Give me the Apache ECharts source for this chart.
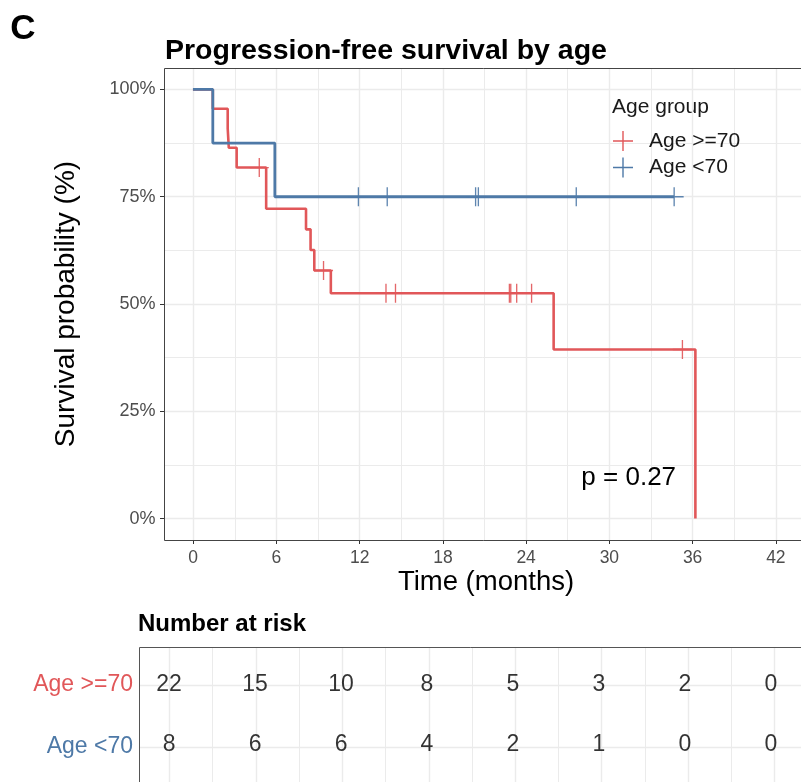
<!DOCTYPE html>
<html><head><meta charset="utf-8">
<script src="https://cdn.jsdelivr.net/npm/echarts@6/dist/echarts.min.js"></script>
<style>html,body{margin:0;padding:0;background:#fff}#c{width:801px;height:782px}</style>
</head><body><div id="c"></div>
<script>
// ---------------- data ----------------
const groups = ['Age >=70', 'Age <70'];
const highStepTimes = [0, 1.44, 2.52, 2.6, 3.17, 5.31, 8.2, 8.53, 8.8, 10.0, 26.16, 36.44];
const highStepSurv  = [1, 0.955, 0.909, 0.864, 0.818, 0.722, 0.674, 0.626, 0.578, 0.525, 0.394, 0];
const highCensorTimes = [4.81, 9.47, 14.0, 14.69, 22.95, 23.05, 23.48, 24.56, 35.5];
const highCensorSurv  = [0.818, 0.578, 0.525, 0.525, 0.525, 0.525, 0.525, 0.525, 0.394];
const lowStepTimes = [0, 1.44, 5.94, 34.9];
const lowStepSurv  = [1, 0.875, 0.75, 0.75];
const lowCensorTimes = [12.0, 14.09, 20.5, 20.7, 27.8, 34.9];
const lowCensorSurv  = [0.75, 0.75, 0.75, 0.75, 0.75, 0.75];
const xTickMax = 42, xTickStep = 6;
const yTickStep = 0.25;
const riskTimes = [0, 6, 12, 18, 24, 30, 36, 42];
const riskHigh = [22, 15, 10, 8, 5, 3, 2, 0];
const riskLow  = [8, 6, 6, 4, 2, 1, 0, 0];
const pText = 'p = 0.27';

// ---------------- style / layout ----------------
const RED = '#E15759', BLUE = '#4E79A7';
const FONT = '"Liberation Sans", Arial, Helvetica, sans-serif';
const GRID = '#EBEBEB';
const XMIN = -2.1, XMAX = 44.1, YMIN = -0.05, YMAX = 1.05;
const P = {l: 164, t: 68, r: 805, b: 540};
const xs = (P.r - P.l) / (XMAX - XMIN);
const ys = (P.b - P.t) / (YMAX - YMIN);
const T = {l: 139, t: 647, r: 805, b: 785, row1: 685, row0: 747};
const txs = (T.r - T.l) / (XMAX - XMIN);
const rowH = T.row0 - T.row1;
const PLUS = 'path://M9.3,0 L10.7,0 L10.7,9.3 L20,9.3 L20,10.7 L10.7,10.7 L10.7,20 L9.3,20 L9.3,10.7 L0,10.7 L0,9.3 L9.3,9.3 Z';

const zip = (a, b) => a.map((v, i) => [v, b[i]]);

const grids = [
  {left: P.l, top: P.t, width: P.r - P.l, height: P.b - P.t},                                  // 0 data
  {left: P.l - XMIN * xs, top: P.t, width: xTickMax * xs, height: P.b - P.t},                  // 1 x overlay
  {left: P.l, top: P.t + (YMAX - 1) * ys, width: P.r - P.l, height: ys},                       // 2 y overlay
  {left: T.l, top: T.t, width: T.r - T.l, height: T.b - T.t},                                  // 3 table data
  {left: T.l - XMIN * txs, top: T.t, width: xTickMax * txs, height: T.b - T.t},                // 4 table x overlay
  {left: T.l, top: T.row1, width: T.r - T.l, height: rowH}                                     // 5 table y overlay
];

const hiddenX = (g, min, max) => ({type: 'value', gridIndex: g, show: false, min, max});
const splitStyle = {show: true, lineStyle: {color: GRID, width: 1.4}};
const minorStyle = {show: true, lineStyle: {color: GRID, width: 1}};

const xAxis = [
  hiddenX(0, XMIN, XMAX),
  {type: 'value', gridIndex: 1, min: 0, max: xTickMax, interval: xTickStep,
   axisLine: {show: false}, axisTick: {show: true, length: 4, lineStyle: {color: '#333', width: 1}},
   axisLabel: {fontSize: 17.5, color: '#4D4D4D', fontFamily: FONT, margin: 9},
   splitLine: splitStyle, minorTick: {show: false, splitNumber: 2}, minorSplitLine: minorStyle},
  hiddenX(2, 0, 1),
  hiddenX(3, XMIN, XMAX),
  {type: 'value', gridIndex: 4, min: 0, max: xTickMax, interval: xTickStep,
   axisLine: {show: false}, axisTick: {show: false}, axisLabel: {show: false},
   splitLine: splitStyle, minorTick: {show: false, splitNumber: 2}, minorSplitLine: minorStyle},
  hiddenX(5, 0, 1)
];
const yAxis = [
  {type: 'value', gridIndex: 0, show: false, min: YMIN, max: YMAX},
  {type: 'value', gridIndex: 1, show: false, min: 0, max: 1},
  {type: 'value', gridIndex: 2, min: 0, max: 1, interval: yTickStep,
   axisLine: {show: false}, axisTick: {show: true, length: 4, lineStyle: {color: '#333', width: 1}},
   axisLabel: {fontSize: 18, color: '#4D4D4D', fontFamily: FONT, margin: 8.5,
               formatter: v => Math.round(v * 100) + '%'},
   splitLine: splitStyle, minorTick: {show: false, splitNumber: 2}, minorSplitLine: minorStyle},
  {type: 'value', gridIndex: 3, show: false, min: 0 - (T.b - T.row0) / rowH, max: 1 + (T.row1 - T.t) / rowH},
  {type: 'value', gridIndex: 4, show: false, min: 0, max: 1},
  {type: 'value', gridIndex: 5, min: 0, max: 1, interval: 1,
   axisLine: {show: false}, axisTick: {show: false},
   axisLabel: {margin: 6, fontFamily: FONT,
     formatter: v => v === 1 ? '{h|' + groups[0] + '}' : '{l|' + groups[1] + '}',
     rich: {h: {color: RED, fontSize: 23, fontFamily: FONT}, l: {color: BLUE, fontSize: 23, fontFamily: FONT}}},
   splitLine: splitStyle}
];

const riskSeries = (counts, row, name) => ({
  type: 'scatter', xAxisIndex: 3, yAxisIndex: 3, name: '_' + name, silent: true,
  symbolSize: 1, itemStyle: {color: 'rgba(0,0,0,0)'},
  data: riskTimes.map((t, i) => [t, row, counts[i]]),
  label: {show: true, position: 'inside', formatter: p => String(p.value[2]),
          fontSize: 23, color: '#000', fontFamily: FONT}
});

const option = {
  animation: false,
  backgroundColor: '#fff',
  grid: grids,
  xAxis, yAxis,
  legend: {
    orient: 'vertical', left: 613, top: 130.5, padding: 0, itemWidth: 20, itemHeight: 20, itemGap: 5.5,
    data: [{name: groups[0], icon: PLUS, itemStyle: {color: RED}}, {name: groups[1], icon: PLUS, itemStyle: {color: BLUE}}],
    textStyle: {fontSize: 21, color: '#1A1A1A', fontFamily: FONT, padding: [0, 0, 0, 11]},
    selectedMode: false
  },
  series: [
    {type: 'line', name: groups[0], xAxisIndex: 0, yAxisIndex: 0, step: 'end', showSymbol: false, symbol: 'none',
     data: zip(highStepTimes, highStepSurv), lineStyle: {color: RED, width: 2.6}, itemStyle: {color: RED}, z: 3, silent: true},
    {type: 'scatter', name: groups[0], xAxisIndex: 0, yAxisIndex: 0, symbol: PLUS, symbolSize: 19,
     data: zip(highCensorTimes, highCensorSurv), itemStyle: {color: RED, opacity: 0.9}, z: 3, silent: true},
    {type: 'line', name: groups[1], xAxisIndex: 0, yAxisIndex: 0, step: 'end', showSymbol: false, symbol: 'none',
     data: zip(lowStepTimes, lowStepSurv), lineStyle: {color: BLUE, width: 2.8}, itemStyle: {color: BLUE}, z: 4, silent: true},
    {type: 'scatter', name: groups[1], xAxisIndex: 0, yAxisIndex: 0, symbol: PLUS, symbolSize: 19,
     data: zip(lowCensorTimes, lowCensorSurv), itemStyle: {color: BLUE, opacity: 0.9}, z: 4, silent: true},
    riskSeries(riskHigh, 1, 'high'),
    riskSeries(riskLow, 0, 'low')
  ],
  graphic: [
    {type: 'rect', z: 50, silent: true, shape: {x: P.l + 0.5, y: P.t + 0.5, width: P.r - P.l, height: P.b - P.t},
     style: {fill: 'none', stroke: '#444', lineWidth: 1}},
    {type: 'rect', z: 50, silent: true, shape: {x: T.l + 0.5, y: T.t + 0.5, width: T.r - T.l, height: T.b - T.t + 20},
     style: {fill: 'none', stroke: '#555', lineWidth: 1}},
    {type: 'text', x: 23, y: 29.5, style: {text: 'C', font: 'bold 35px ' + FONT, fill: '#000', textAlign: 'center', textVerticalAlign: 'middle'}},
    {type: 'text', x: 165, y: 51, style: {text: 'Progression-free survival by age', font: 'bold 28.5px ' + FONT, fill: '#000', textAlign: 'left', textVerticalAlign: 'middle'}},
    {type: 'text', x: 66, y: (P.t + P.b) / 2, rotation: Math.PI / 2, style: {text: 'Survival probability (%)', font: '28px ' + FONT, fill: '#000', textAlign: 'center', textVerticalAlign: 'middle'}},
    {type: 'text', x: 486, y: 582, style: {text: 'Time (months)', font: '27.5px ' + FONT, fill: '#000', textAlign: 'center', textVerticalAlign: 'middle'}},
    {type: 'text', x: 612, y: 107.5, style: {text: 'Age group', font: '21px ' + FONT, fill: '#1A1A1A', textAlign: 'left', textVerticalAlign: 'middle'}},
    {type: 'text', x: 628.7, y: 477.5, z: 60, style: {text: pText, font: '26px ' + FONT, fill: '#000', textAlign: 'center', textVerticalAlign: 'middle'}},
    {type: 'text', x: 138, y: 624.5, style: {text: 'Number at risk', font: 'bold 24px ' + FONT, fill: '#000', textAlign: 'left', textVerticalAlign: 'middle'}}
  ]
};

const chart = echarts.init(document.getElementById('c'), null, {renderer: 'canvas'});
chart.setOption(option);
</script>
</body></html>
